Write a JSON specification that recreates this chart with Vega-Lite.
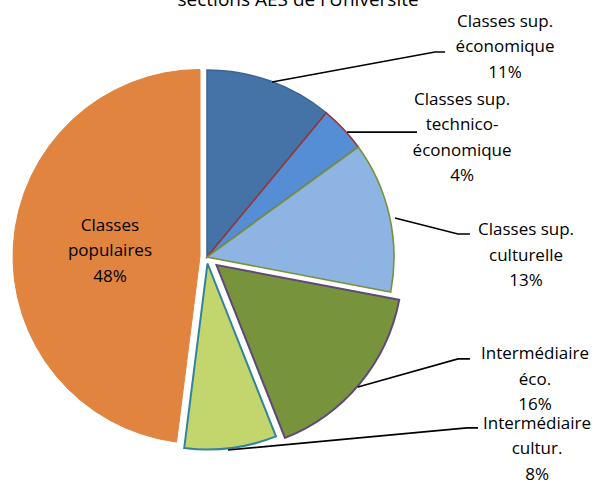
{
  "$schema": "https://vega.github.io/schema/vega-lite/v6.json",
  "width": 602,
  "height": 482,
  "autosize": {"type": "none"},
  "padding": 0,
  "background": "white",
  "config": {"view": {"stroke": null}, "font": "Open Sans"},
  "datasets": {
    "parts": [
      {"categorie": "Classes sup. économique", "pct": 11, "ordre": 1},
      {"categorie": "Classes sup. technico-économique", "pct": 4, "ordre": 2},
      {"categorie": "Classes sup. culturelle", "pct": 13, "ordre": 3},
      {"categorie": "Intermédiaire éco.", "pct": 16, "ordre": 4},
      {"categorie": "Intermédiaire cultur.", "pct": 8, "ordre": 5},
      {"categorie": "Classes populaires", "pct": 48, "ordre": 6}
    ],
    "etiquettes": [
      {"etiquette": "Classes sup.\néconomique\n11%", "lx": 159.4, "ly": 125.7},
      {"etiquette": "Classes sup.\ntechnico-\néconomique\n4%", "lx": 136.4, "ly": 84.0},
      {"etiquette": "Classes sup.\nculturelle\n13%", "lx": 170.6, "ly": 14.4},
      {"etiquette": "Intermédiaire\néco.\n16%", "lx": 175.4, "ly": -51.9},
      {"etiquette": "Intermédiaire\ncultur.\n8%", "lx": 176.5, "ly": -89.3},
      {"etiquette": "Classes\npopulaires\n48%", "lx": -51.9, "ly": 16.6}
    ],
    "titre": [
      {"texte": "sections AES de l'Université", "lx": 48.7, "ly": 134.2}
    ],
    "reperes": [
      {"id": 1, "pt": 1, "lx": 34.8, "ly": 93.6},
      {"id": 1, "pt": 2, "lx": 121.9, "ly": 109.6},
      {"id": 1, "pt": 3, "lx": 127.3, "ly": 109.6},
      {"id": 2, "pt": 1, "lx": 74.9, "ly": 66.8},
      {"id": 2, "pt": 2, "lx": 112.3, "ly": 66.8},
      {"id": 3, "pt": 1, "lx": 100.5, "ly": 20.9},
      {"id": 3, "pt": 2, "lx": 134.2, "ly": 12.3},
      {"id": 3, "pt": 3, "lx": 140.6, "ly": 12.3},
      {"id": 4, "pt": 1, "lx": 80.7, "ly": -69.5},
      {"id": 4, "pt": 2, "lx": 134.2, "ly": -54.5},
      {"id": 4, "pt": 3, "lx": 140.6, "ly": -54.5},
      {"id": 5, "pt": 1, "lx": 11.2, "ly": -103.2},
      {"id": 5, "pt": 2, "lx": 139.0, "ly": -91.4},
      {"id": 5, "pt": 3, "lx": 144.9, "ly": -91.4}
    ]
  },
  "layer": [
    {
      "data": {"name": "parts"},
      "transform": [
        {"stack": "pct", "groupby": [], "sort": [{"field": "ordre", "order": "ascending"}], "as": ["t0", "t1"]},
        {"filter": "datum.ordre == 6"}
      ],
      "mark": {"type": "arc", "radius": 187, "xOffset": -7, "yOffset": -0.5, "strokeWidth": 1},
      "encoding": {
        "x": {"datum": 0, "type": "quantitative", "scale": {"domain": [-110.7, 211.23], "nice": false, "zero": false}, "axis": null},
        "y": {"datum": 0, "type": "quantitative", "scale": {"domain": [-120.32, 137.43], "nice": false, "zero": false}, "axis": null},
        "theta": {"field": "t0", "type": "quantitative", "scale": {"domain": [0, 100]}},
        "theta2": {"field": "t1"},
        "fill": {"value": "#e0843f"},
        "stroke": {"value": "#e0843f"}
      }
    },
    {
      "data": {"name": "parts"},
      "transform": [
        {"stack": "pct", "groupby": [], "sort": [{"field": "ordre", "order": "ascending"}], "as": ["t0", "t1"]},
        {"filter": "datum.ordre == 5"}
      ],
      "mark": {"type": "arc", "radius": 186, "xOffset": 0.5, "yOffset": 6.5, "strokeWidth": 2},
      "encoding": {
        "x": {"datum": 0, "type": "quantitative"},
        "y": {"datum": 0, "type": "quantitative"},
        "theta": {"field": "t0", "type": "quantitative", "scale": {"domain": [0, 100]}},
        "theta2": {"field": "t1"},
        "fill": {"value": "#c3d66d"},
        "stroke": {"value": "#31849b"}
      }
    },
    {
      "data": {"name": "parts"},
      "transform": [
        {"stack": "pct", "groupby": [], "sort": [{"field": "ordre", "order": "ascending"}], "as": ["t0", "t1"]},
        {"filter": "datum.ordre == 4"}
      ],
      "mark": {"type": "arc", "radius": 186, "xOffset": 9.5, "yOffset": 8, "strokeWidth": 2},
      "encoding": {
        "x": {"datum": 0, "type": "quantitative"},
        "y": {"datum": 0, "type": "quantitative"},
        "theta": {"field": "t0", "type": "quantitative", "scale": {"domain": [0, 100]}},
        "theta2": {"field": "t1"},
        "fill": {"value": "#77933c"},
        "stroke": {"value": "#5f497a"}
      }
    },
    {
      "data": {"name": "parts"},
      "transform": [
        {"stack": "pct", "groupby": [], "sort": [{"field": "ordre", "order": "ascending"}], "as": ["t0", "t1"]},
        {"filter": "datum.ordre <= 3"}
      ],
      "mark": {"type": "arc", "radius": 187, "strokeWidth": 1.6},
      "encoding": {
        "x": {"datum": 0, "type": "quantitative"},
        "y": {"datum": 0, "type": "quantitative"},
        "theta": {"field": "t0", "type": "quantitative", "scale": {"domain": [0, 100]}},
        "theta2": {"field": "t1"},
        "order": {"field": "ordre", "type": "quantitative"},
        "fill": {"field": "categorie", "type": "nominal", "legend": null,
          "scale": {"domain": ["Classes sup. économique", "Classes sup. technico-économique", "Classes sup. culturelle"], "range": ["#4673a7", "#558ed5", "#8eb4e3"]}},
        "stroke": {"field": "categorie", "type": "nominal", "legend": null,
          "scale": {"domain": ["Classes sup. économique", "Classes sup. technico-économique", "Classes sup. culturelle"], "range": ["#3d6592", "#953735", "#77933c"]}}
      }
    },
    {
      "data": {"name": "reperes"},
      "mark": {"type": "line", "color": "#000000", "strokeWidth": 1.6},
      "encoding": {
        "x": {"field": "lx", "type": "quantitative"},
        "y": {"field": "ly", "type": "quantitative"},
        "detail": {"field": "id", "type": "nominal"},
        "order": {"field": "pt", "type": "quantitative"}
      }
    },
    {
      "data": {"name": "etiquettes"},
      "mark": {"type": "text", "font": "Open Sans", "fontSize": 17, "lineBreak": "\n", "lineHeight": 25.5, "align": "center", "baseline": "middle", "color": "#000000"},
      "encoding": {
        "x": {"field": "lx", "type": "quantitative"},
        "y": {"field": "ly", "type": "quantitative"},
        "text": {"field": "etiquette", "type": "nominal"}
      }
    },
    {
      "data": {"name": "titre"},
      "mark": {"type": "text", "font": "Open Sans", "fontSize": 19, "align": "center", "baseline": "alphabetic", "color": "#000000"},
      "encoding": {
        "x": {"field": "lx", "type": "quantitative"},
        "y": {"field": "ly", "type": "quantitative"},
        "text": {"field": "texte", "type": "nominal"}
      }
    }
  ]
}
